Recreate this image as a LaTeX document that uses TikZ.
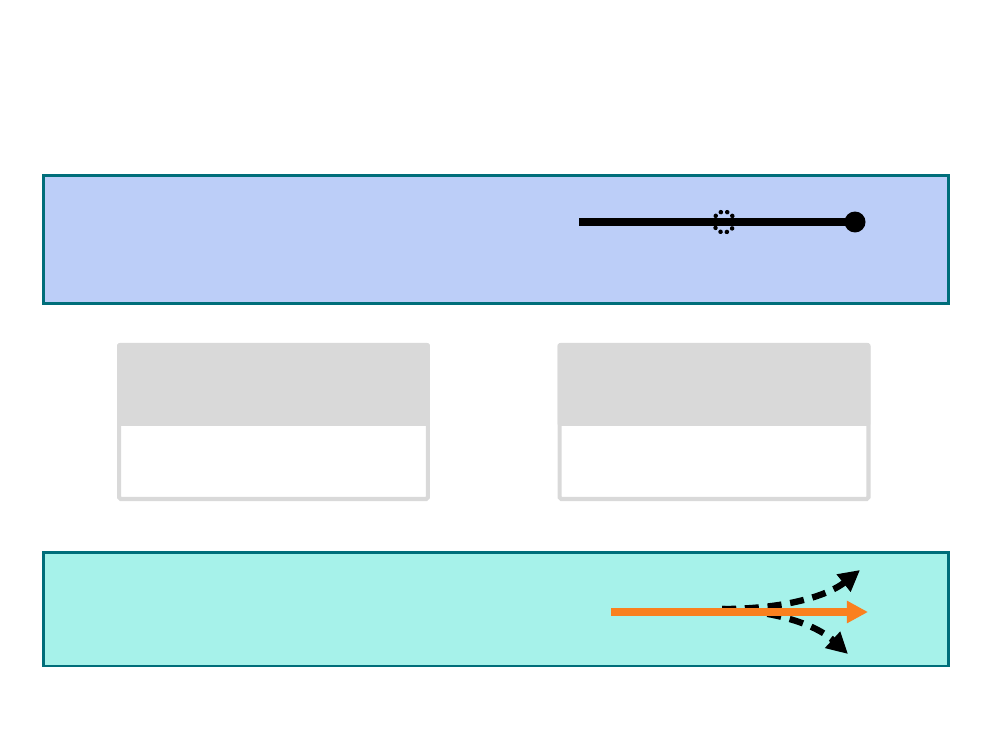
\documentclass[tikz,border=0pt]{standalone}
\usepackage{xcolor}
\usepackage{tikz}
\usetikzlibrary{arrows.meta,positioning}
\definecolor{panelteal}{RGB}{0, 110, 122}
\definecolor{panelblue}{RGB}{188, 206, 248}
\definecolor{panelcyan}{RGB}{166, 242, 234}
\definecolor{cardgray}{RGB}{217, 217, 217}
\definecolor{floworange}{RGB}{250, 128, 30}

\begin{document}
\begin{tikzpicture}[
    x=0.02cm,
    y=-0.02cm,
    panel/.style={draw=panelteal, line width=1.7pt, inner sep=0pt, minimum width=18.12cm},
    cardbody/.style={draw=cardgray, fill=white, line width=2.3pt, rounded corners=1pt,
        inner sep=0pt, minimum width=6.18cm, minimum height=3.08cm},
    cardhead/.style={fill=cardgray, rounded corners=1pt, inner sep=0pt,
        minimum width=6.26cm, minimum height=1.66cm},
    dot/.style={circle, fill=black, inner sep=0pt, minimum size=0.42cm},
    ghost/.style={circle, draw=black, line width=2.5pt, line cap=round,
        dash pattern=on 0.1pt off 3.6pt, inner sep=0pt, minimum size=0.42cm},
    tip/.style={-{Triangle[length=12pt,width=12pt]}}
]
    \useasboundingbox (0,0) rectangle (1000,750);

    % Top panel
    \node[panel, fill=panelblue, minimum height=2.58cm] (top) at (496,239.5) {};
    \coordinate (linestart) at (579,222);
    \node[dot] (lineend) at (855,222) {};
    \draw[line width=4pt] (linestart) -- (lineend.center);
    \node[ghost] (mid) at (724,222) {};

    % Cards
    \node[cardbody] (leftcard) at (273.5,422) {};
    \node[cardhead] (lefthead) at (273.5,384.5) {};
    \node[cardbody] (rightcard) at (714,422) {};
    \node[cardhead] (righthead) at (714,384.5) {};

    % Bottom panel
    \node[panel, fill=panelcyan, minimum height=2.28cm] (bottom) at (496,609) {};
    \coordinate (flowstart) at (611,612);
    \coordinate (flowend) at (868,612);
    \coordinate (split) at (722,609);
    \coordinate (upend) at (860,570);
    \coordinate (downend) at (848,654);
    \draw[tip, dash pattern=on 8pt off 5pt, line width=3.6pt]
        (split) .. controls (790,609) and (830,594) .. (upend);
    \draw[tip, dash pattern=on 8pt off 5pt, line width=3.6pt]
        (split) .. controls (790,612) and (822,630) .. (downend);
    \draw[tip, floworange, line width=4pt] (flowstart) -- (flowend);
\end{tikzpicture}
\end{document}
